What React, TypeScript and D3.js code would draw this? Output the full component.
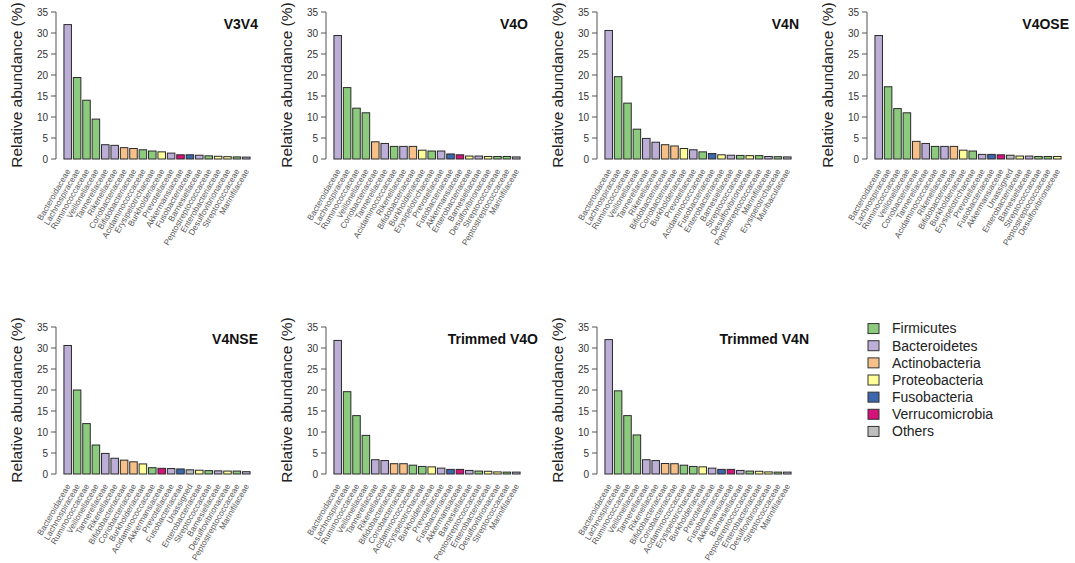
import React from "react";
import * as d3 from "d3";

// ---- Data ----
const phylumNames = ["Firmicutes", "Bacteroidetes", "Actinobacteria", "Proteobacteria", "Fusobacteria", "Verrucomicrobia", "Others"];
const phylumColors = ["#8ccb7e", "#bcaed6", "#f6c088", "#ffff99", "#3d67ad", "#d6137a", "#bebebe"];

const familyPhylum: Record<string, string> = {
  Bacteroidaceae: "Bacteroidetes",
  Lachnospiraceae: "Firmicutes",
  Ruminococcaceae: "Firmicutes",
  Veillonellaceae: "Firmicutes",
  Tannerellaceae: "Bacteroidetes",
  Rikenellaceae: "Bacteroidetes",
  Coriobacteriaceae: "Actinobacteria",
  Bifidobacteriaceae: "Actinobacteria",
  Acidaminococcaceae: "Firmicutes",
  Erysipelotrichaceae: "Firmicutes",
  Burkholderiaceae: "Proteobacteria",
  Prevotellaceae: "Bacteroidetes",
  Akkermansiaceae: "Verrucomicrobia",
  Fusobacteriaceae: "Fusobacteria",
  Barnesiellaceae: "Bacteroidetes",
  Peptostreptococcaceae: "Firmicutes",
  Enterobacteriaceae: "Proteobacteria",
  Desulfovibrionaceae: "Proteobacteria",
  Streptococcaceae: "Firmicutes",
  Marinifilaceae: "Bacteroidetes",
  Muribaculaceae: "Bacteroidetes",
  Unassigned: "Others",
};

const v3v4Families = ["Bacteroidaceae", "Lachnospiraceae", "Ruminococcaceae", "Veillonellaceae", "Tannerellaceae", "Rikenellaceae", "Coriobacteriaceae", "Bifidobacteriaceae", "Acidaminococcaceae", "Erysipelotrichaceae", "Burkholderiaceae", "Prevotellaceae", "Akkermansiaceae", "Fusobacteriaceae", "Barnesiellaceae", "Peptostreptococcaceae", "Enterobacteriaceae", "Desulfovibrionaceae", "Streptococcaceae", "Marinifilaceae"];
const v3v4Values = [32.0, 19.4, 14.0, 9.5, 3.4, 3.25, 2.7, 2.5, 2.2, 1.9, 1.7, 1.4, 1.0, 1.0, 0.9, 0.75, 0.65, 0.55, 0.5, 0.45];

const v4oFamilies = ["Bacteroidaceae", "Lachnospiraceae", "Ruminococcaceae", "Veillonellaceae", "Coriobacteriaceae", "Tannerellaceae", "Acidaminococcaceae", "Rikenellaceae", "Bifidobacteriaceae", "Burkholderiaceae", "Erysipelotrichaceae", "Prevotellaceae", "Fusobacteriaceae", "Akkermansiaceae", "Enterobacteriaceae", "Barnesiellaceae", "Desulfovibrionaceae", "Streptococcaceae", "Peptostreptococcaceae", "Marinifilaceae"];
const v4oValues = [29.4, 17.0, 12.1, 11.0, 4.1, 3.7, 3.0, 3.0, 3.0, 2.1, 1.9, 1.9, 1.2, 1.0, 0.7, 0.7, 0.6, 0.6, 0.6, 0.5];

const v4nFamilies = ["Bacteroidaceae", "Lachnospiraceae", "Ruminococcaceae", "Veillonellaceae", "Tannerellaceae", "Rikenellaceae", "Bifidobacteriaceae", "Coriobacteriaceae", "Burkholderiaceae", "Prevotellaceae", "Acidaminococcaceae", "Fusobacteriaceae", "Enterobacteriaceae", "Barnesiellaceae", "Streptococcaceae", "Desulfovibrionaceae", "Peptostreptococcaceae", "Marinifilaceae", "Erysipelotrichaceae", "Muribaculaceae"];
const v4nValues = [30.6, 19.6, 13.3, 7.1, 4.9, 4.0, 3.4, 3.1, 2.5, 2.2, 1.7, 1.3, 1.0, 0.9, 0.85, 0.8, 0.8, 0.6, 0.55, 0.5];

const v4oseFamilies = ["Bacteroidaceae", "Lachnospiraceae", "Ruminococcaceae", "Veillonellaceae", "Coriobacteriaceae", "Tannerellaceae", "Acidaminococcaceae", "Rikenellaceae", "Bifidobacteriaceae", "Burkholderiaceae", "Erysipelotrichaceae", "Prevotellaceae", "Fusobacteriaceae", "Akkermansiaceae", "Unassigned", "Enterobacteriaceae", "Barnesiellaceae", "Streptococcaceae", "Peptostreptococcaceae", "Desulfovibrionaceae"];
const v4oseValues = [29.4, 17.2, 12.0, 11.0, 4.2, 3.7, 3.0, 3.0, 3.0, 2.1, 1.9, 1.1, 1.1, 1.0, 0.9, 0.7, 0.7, 0.6, 0.6, 0.6];

const v4nseFamilies = ["Bacteroidaceae", "Lachnospiraceae", "Ruminococcaceae", "Veillonellaceae", "Tannerellaceae", "Rikenellaceae", "Bifidobacteriaceae", "Coriobacteriaceae", "Burkholderiaceae", "Acidaminococcaceae", "Akkermansiaceae", "Prevotellaceae", "Fusobacteriaceae", "Unassigned", "Enterobacteriaceae", "Streptococcaceae", "Barnesiellaceae", "Desulfovibrionaceae", "Peptostreptococcaceae", "Marinifilaceae"];
const v4nseValues = [30.6, 20.0, 12.0, 6.9, 4.9, 3.75, 3.3, 2.9, 2.4, 1.5, 1.35, 1.3, 1.2, 1.0, 0.9, 0.8, 0.75, 0.7, 0.7, 0.55];

const trimmedFamilies = ["Bacteroidaceae", "Lachnospiraceae", "Ruminococcaceae", "Veillonellaceae", "Tannerellaceae", "Rikenellaceae", "Bifidobacteriaceae", "Coriobacteriaceae", "Acidaminococcaceae", "Erysipelotrichaceae", "Burkholderiaceae", "Prevotellaceae", "Fusobacteriaceae", "Akkermansiaceae", "Barnesiellaceae", "Peptostreptococcaceae", "Enterobacteriaceae", "Desulfovibrionaceae", "Streptococcaceae", "Marinifilaceae"];
const trimmedV4oValues = [31.8, 19.6, 13.9, 9.2, 3.4, 3.2, 2.45, 2.45, 2.1, 1.8, 1.7, 1.4, 1.1, 1.1, 0.85, 0.7, 0.65, 0.5, 0.45, 0.45];
const trimmedV4nValues = [32.0, 19.8, 13.9, 9.3, 3.4, 3.2, 2.5, 2.45, 2.1, 1.8, 1.7, 1.4, 1.1, 1.1, 0.85, 0.7, 0.65, 0.5, 0.45, 0.45];

const yTicks = [0, 5, 10, 15, 20, 25, 30, 35];

const panels = [
  { title: "V3V4", families: v3v4Families, values: v3v4Values },
  { title: "V4O", families: v4oFamilies, values: v4oValues },
  { title: "V4N", families: v4nFamilies, values: v4nValues },
  { title: "V4OSE", families: v4oseFamilies, values: v4oseValues },
  { title: "V4NSE", families: v4nseFamilies, values: v4nseValues },
  { title: "Trimmed V4O", families: trimmedFamilies, values: trimmedV4oValues },
  { title: "Trimmed V4N", families: trimmedFamilies, values: trimmedV4nValues },
];

// ---- Layout ----
const W = 1075;
const H = 563;
const panelOrigins = [
  [0, 0], [270, 0], [541, 0], [811, 0],
  [0, 315], [270, 315], [541, 315],
];
const FONT = "'Liberation Sans', Arial, Helvetica, sans-serif";

const color = d3.scaleOrdinal<string, string>().domain(phylumNames).range(phylumColors);

function Panel({ p, ox, oy }: { p: typeof panels[number]; ox: number; oy: number }) {
  const axisX = 56;
  const y = d3.scaleLinear().domain([0, 35]).range([159, 12]);
  const x = d3.scaleBand<string>().domain(p.families).range([63, 251]).paddingInner(0.2).paddingOuter(0.1);
  const titleRight = p.title.startsWith("Trimmed") ? 268 : 258;
  return (
    <g transform={`translate(${ox},${oy})`}>
      <text
        transform={`translate(22,85) rotate(-90)`}
        textAnchor="middle"
        fontSize={15.5}
        fill="#222"
        fontFamily={FONT}
      >
        Relative abundance (%)
      </text>
      <line x1={axisX} x2={axisX} y1={y(0)} y2={y(35)} stroke="#555" strokeWidth={1} />
      {yTicks.map((t) => (
        <g key={t}>
          <line x1={axisX - 5} x2={axisX} y1={y(t)} y2={y(t)} stroke="#555" strokeWidth={1} />
          <text x={axisX - 8} y={y(t)} dy="0.35em" textAnchor="end" fontSize={10} fill="#333" fontFamily={FONT}>
            {t}
          </text>
        </g>
      ))}
      {p.families.map((f, i) => (
        <rect
          key={f}
          x={x(f)}
          y={y(p.values[i])}
          width={x.bandwidth()}
          height={y(0) - y(p.values[i])}
          fill={color(familyPhylum[f])}
          stroke="#2a2a2a"
          strokeWidth={1}
        />
      ))}
      {p.families.map((f) => (
        <text
          key={"l" + f}
          transform={`translate(${(x(f) as number) + x.bandwidth() / 2 + 3},${y(0) + 12}) rotate(-60)`}
          textAnchor="end"
          fontSize={8.3}
          fill="#555"
          fontFamily={FONT}
        >
          {f}
        </text>
      ))}
      <text x={titleRight} y={29} textAnchor="end" fontSize={14} fontWeight="bold" fill="#111" fontFamily={FONT}>
        {p.title}
      </text>
    </g>
  );
}

export default function App() {
  const legendY = d3.scaleBand<string>().domain(phylumNames).range([320, 440]);
  return (
    <svg width={W} height={H} style={{ position: "absolute", left: 0, top: 0, background: "#fff" }}>
      <rect width={W} height={H} fill="#fff" />
      {panels.map((p, i) => (
        <Panel key={p.title} p={p} ox={panelOrigins[i][0]} oy={panelOrigins[i][1]} />
      ))}
      <g>
        {phylumNames.map((n) => {
          const cy = (legendY(n) as number) + legendY.bandwidth() / 2;
          return (
            <g key={n}>
              <rect x={868} y={cy - 5} width={11} height={10} fill={color(n)} stroke="#333" strokeWidth={1} />
              <text x={892} y={cy} dy="0.35em" fontSize={14} fill="#222" fontFamily={FONT}>
                {n}
              </text>
            </g>
          );
        })}
      </g>
    </svg>
  );
}
